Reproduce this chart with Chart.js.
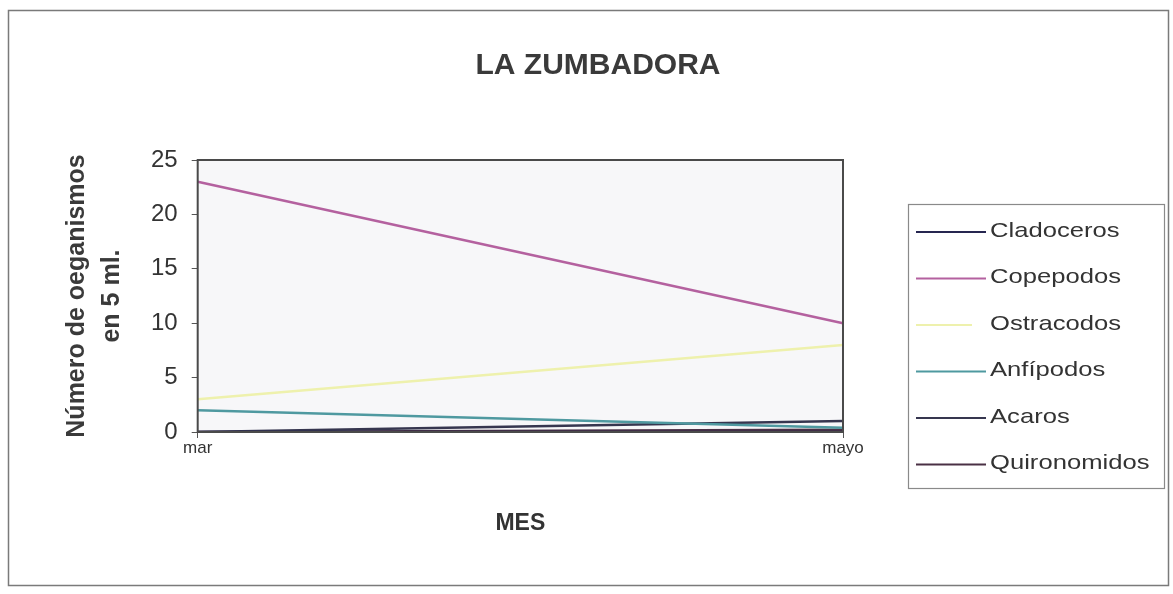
<!DOCTYPE html>
<html>
<head>
<meta charset="utf-8">
<script src="https://cdn.jsdelivr.net/npm/chart.js@4"></script>
<style>
  html, body { margin: 0; padding: 0; background: #fff; }
  #wrap { width: 1173px; height: 594px; }
</style>
</head>
<body>
<div id="wrap"><canvas id="chart" width="1173" height="594"></canvas></div>
<script>
// Months on the x axis
const months = ['mar', 'mayo'];

// Organisms counted in 5 ml
const cladoceros = [0, 0];
const copepodos = [23, 10];
const ostracodos = [3, 8];
const anfipodos = [2, 0.4];
const acaros = [0, 1];
const quironomidos = [0, 0.2];

const yTicks = [0, 5, 10, 15, 20, 25];
const chartTitle = 'LA ZUMBADORA';

// Frame round the whole picture, the title, plot background and a boxed legend on the right
const framePlugin = {
    id: 'frame',
    beforeDraw(chart) {
        const ctx = chart.ctx;
        const a = chart.chartArea;
        ctx.save();
        ctx.strokeStyle = '#7a7a7a';
        ctx.lineWidth = 1.5;
        ctx.strokeRect(8.5, 10.5, 1160, 575);
        ctx.fillStyle = '#f7f7f9';
        ctx.fillRect(a.left, a.top, a.right - a.left, a.bottom - a.top);

        // the title sits over the whole picture, not just the plot
        ctx.font = 'bold 30px "Liberation Sans"';
        ctx.fillStyle = '#3a3a3a';
        ctx.textAlign = 'center';
        ctx.textBaseline = 'middle';
        ctx.fillText(chartTitle, 598, 66);
        ctx.restore();
    },
    afterDraw(chart) {
        const ctx = chart.ctx;
        const a = chart.chartArea;
        ctx.save();
        ctx.strokeStyle = '#4a4a4a';
        ctx.lineWidth = 2;
        ctx.strokeRect(a.left, a.top, a.right - a.left, a.bottom - a.top);

        // legend
        ctx.strokeStyle = '#8a8a8a';
        ctx.lineWidth = 1.2;
        ctx.strokeRect(908.5, 204.5, 256, 284);
        ctx.font = '21px "Liberation Sans"';
        ctx.textBaseline = 'middle';
        chart.data.datasets.forEach((ds, i) => {
            const y = 231 + i * 46.5;
            ctx.strokeStyle = ds.borderColor;
            ctx.lineWidth = 2;
            ctx.beginPath();
            ctx.moveTo(916, y + 1);
            ctx.lineTo(ds.legendGap ? 972 : 986, y + 1);
            ctx.stroke();
            ctx.save();
            ctx.translate(990, y);
            ctx.scale(1.22, 1);
            ctx.fillStyle = '#333';
            ctx.fillText(ds.label, 0, 0);
            ctx.restore();
        });
        ctx.restore();
    }
};

const ctx = document.getElementById('chart').getContext('2d');
new Chart(ctx, {
    type: 'line',
    data: {
        labels: months,
        datasets: [
            { label: 'Cladoceros', data: cladoceros, borderColor: '#262650' },
            { label: 'Copepodos', data: copepodos, borderColor: '#b4619f' },
            { label: 'Ostracodos', data: ostracodos, borderColor: '#eef1ad', legendGap: true },
            { label: 'Anfípodos', data: anfipodos, borderColor: '#4f99a0' },
            { label: 'Acaros', data: acaros, borderColor: '#36364f' },
            { label: 'Quironomidos', data: quironomidos, borderColor: '#4a3045' }
        ]
    },
    options: {
        responsive: false,
        animation: false,
        elements: {
            point: { radius: 0 },
            line: { borderWidth: 2.5, tension: 0 }
        },
        layout: { padding: { left: 55, right: 330, top: 160, bottom: 57 } },
        plugins: {
            title: { display: false },
            legend: { display: false },
            tooltip: { enabled: false }
        },
        scales: {
            x: {
                offset: false,
                grid: { display: true, drawOnChartArea: false, drawTicks: true, tickLength: 6, color: '#555' },
                border: { display: false },
                ticks: { color: '#333', font: { family: 'Liberation Sans', size: 17 }, padding: 0, maxRotation: 0 },
                title: {
                    display: true,
                    text: 'MES',
                    color: '#333',
                    font: { family: 'Liberation Sans', size: 23, weight: 'bold' },
                    padding: { top: 51, bottom: 0 }
                }
            },
            y: {
                min: 0,
                max: 25,
                afterBuildTicks: axis => { axis.ticks = yTicks.map(v => ({ value: v })); },
                grid: { display: true, drawOnChartArea: false, drawTicks: true, tickLength: 6, color: '#555' },
                border: { display: false },
                ticks: { color: '#333', font: { family: 'Liberation Sans', size: 24 }, padding: 14 },
                title: {
                    display: true,
                    text: ['Número de oeganismos', 'en 5 ml.'],
                    color: '#3a3a3a',
                    font: { family: 'Liberation Sans', size: 25, weight: 'bold', lineHeight: 1.4 },
                    padding: { top: 5, bottom: 7 }
                }
            }
        }
    },
    plugins: [framePlugin]
});
</script>
</body>
</html>
